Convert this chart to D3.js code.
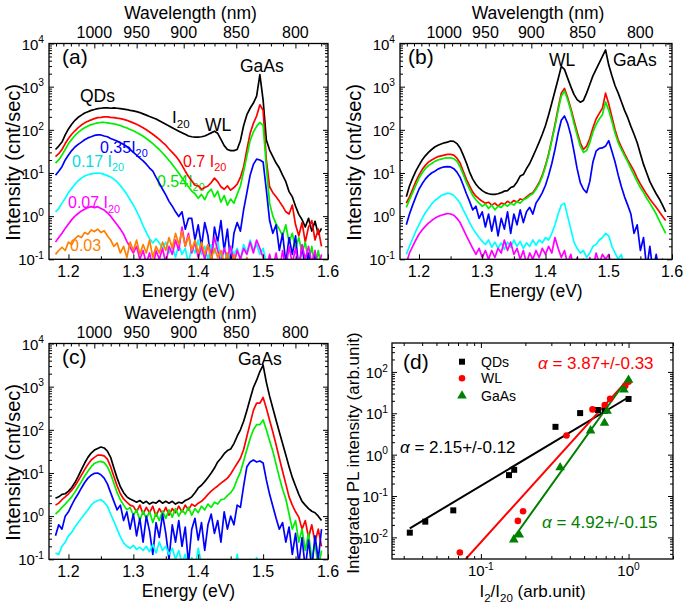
<!DOCTYPE html>
<html><head><meta charset="utf-8">
<script src="https://cdn.jsdelivr.net/npm/d3@7"></script>
<style>
body{margin:0;background:#fff;}
svg text{font-family:"Liberation Sans",Arial,Helvetica,sans-serif;}
</style></head><body>
<svg id="chart" width="685" height="606"></svg>
<script>
// ---------- DATA ----------
// photon-energy grid of the spectra (eV), 1.180 ... 1.590 in 0.005 steps
const energy = d3.range(83).map(i => Math.round((1.18 + i * 0.005) * 1000) / 1000);

// Panel (a) spectra (cnt/sec) for excitation I/I20
const aI20 = [35,42,52,76,105,135,166,195,219,245,
 263,282,295,309,316,324,324,316,324,316,
 309,302,295,282,275,263,251,234,219,204,
 191,178,162,148,135,123,112,102,93,85,
 79,72,69,68,68,69,72,78,85,93,
 83,60,43,35,33,33,35,56,126,224,
 316,417,603,1900,490,58,34,24,17,13,
 8.9,6.3,3.7,2.8,1.7,1.1,0.83,0.56,0.89,0.45,
 0.76,0.38,0.52];
const a070 = [24,28,35,48,63,79,95,112,129,145,
 158,170,182,191,195,200,200,195,191,186,
 182,174,166,155,145,135,123,112,100,89,
 79,69,60,51,44,36,30,25,20,15,
 11,8.3,6.6,5.2,5.0,4.2,4.6,5.0,6.0,7.6,
 6.3,4.8,4.2,5.0,4.0,4.6,5.5,7.9,14,35,
 83,141,209,380,282,20,4.8,3.5,2.8,2.2,
 1.7,1.26,1.12,1.8,0.63,0.35,0.71,0.25,0.56,0.79,
 0.28,0.5,0.2];
const a054 = [17,20,26,35,48,60,74,87,100,112,
 123,132,138,145,148,148,145,141,138,132,
 126,117,110,102,95,87,79,71,63,55,
 48,41,35,29,24,19.5,15.8,12.6,10,7.6,
 6.0,4.8,3.8,3.3,2.6,3.2,2.4,3.5,4.2,2.8,
 3.8,2.1,3.0,1.8,2.5,2.0,3.2,5.0,11,25,
 56,89,120,148,126,14,2.0,1.0,0.66,0.5,
 0.35,0.63,0.25,0.4,0.18,0.32,0.14,0.25,0.08,0.2,
 0.06,0.16,0.06];
const a035 = [8.9,11,14,20,26,33,40,46,52,59,
 65,69,74,76,76,72,69,63,59,55,
 50,46,41,35,30,26,22,19,16,13,
 11,7.9,5.8,4.2,3.1,2.2,1.7,1.26,0.98,1.26,
 0.5,0.89,0.89,0.28,0.63,0.2,0.71,0.35,0.08,0.56,
 0.25,0.79,0.16,0.5,0.08,0.4,0.71,0.45,1.41,3.5,
 8.9,15.8,21,20,18,4.0,0.79,0.4,0.63,0.16,
 0.4,0.08,0.32,0.13,0.35,0.06,0.2,0.06,0.14,0.05,
 0.13,0.05,0.05];
const a017 = [1.26,1.5,2.0,2.6,3.5,4.4,5.5,6.6,7.6,8.5,
 9.1,9.5,9.8,10,9.8,9.3,8.7,8.1,7.2,6.2,
 5.1,4.1,3.2,2.4,1.8,1.3,0.91,0.6,0.42,0.3,
 0.24,0.3,0.24,0.18,0.25,0.14,0.2,0.11,0.22,0.13,
 0.18,0.08,0.2,0.14,0.28,0.13,0.2,0.1,0.22,0.14,
 0.25,0.11,0.18,0.08,0.2,0.13,0.18,0.1,0.22,0.14,
 0.28,0.16,0.22,0.13,0.18,0.08,0.06,0.1,0.05,0.07,
 0.05,0.09,0.05,0.05,0.07,0.05,0.05,0.08,0.05,0.05,
 0.05,0.06,0.05];
const a007 = [0.25,0.32,0.4,0.52,0.66,0.83,1.0,1.15,1.32,1.45,
 1.58,1.66,1.58,1.66,1.51,1.38,1.2,1.0,0.79,0.63,
 0.5,0.38,0.26,0.19,0.14,0.2,0.1,0.16,0.08,0.14,
 0.06,0.16,0.1,0.18,0.08,0.2,0.13,0.28,0.16,0.56,
 0.2,0.4,0.14,0.25,0.11,0.2,0.1,0.22,0.13,0.32,
 0.16,0.08,0.18,0.11,0.2,0.08,0.16,0.1,0.18,0.13,
 0.25,0.14,0.28,0.18,0.11,0.06,0.13,0.06,0.14,0.05,
 0.16,0.06,0.2,0.08,0.18,0.06,0.22,0.1,0.2,0.08,
 0.16,0.06,0.13];
const a003 = [0.13,0.16,0.19,0.16,0.25,0.22,0.3,0.35,0.32,0.42,
 0.38,0.48,0.44,0.5,0.42,0.46,0.35,0.28,0.2,0.24,
 0.14,0.2,0.11,0.25,0.16,0.28,0.13,0.22,0.14,0.28,
 0.11,0.2,0.14,0.25,0.16,0.32,0.18,0.4,0.22,0.45,
 0.2,0.35,0.16,0.28,0.14,0.25,0.13,0.22,0.1,0.18,
 0.11,0.16,0.08,0.14,0.06,0.13,0.06,0.1,0.05,0.11,
 0.05,0.09,0.05,0.07,0.05,0.05,0.08,0.05,0.05,0.05,
 0.05,0.05,0.05,0.05,0.05,0.05,0.05,0.05,0.05,0.05,
 0.05,0.05,0.05];

// Panel (b) spectra
const bI20 = [2.8,5.0,7.6,11,15,20,25,30,35,40,
 44,47,50,52,55,54,48,38,26,17,
 10.5,7.2,5.5,4.5,3.9,3.5,3.3,3.2,3.2,3.3,
 3.5,3.8,3.9,4.6,4.9,6.2,8.5,9.2,12.6,16.6,
 24,35,52,79,126,224,417,794,1510,2950,
 2510,1580,1000,661,501,437,479,708,1120,1780,
 2510,3550,5010,7080,3160,1780,1050,708,447,282,
 191,120,79,50,28,15.8,10,6.3,4.5,3.3,
 2.5,1.8,1.26];
const b070 = [2.0,2.8,4.2,6.3,8.9,12,15,17.8,20,22,
 24,25,26,27,27,26,22,17,11,7.1,
 5.0,3.6,2.9,2.5,2.2,2.0,2.1,1.8,2.0,1.7,
 2.0,1.9,2.2,2.0,2.3,2.1,2.5,2.4,2.8,3.2,
 3.5,4.5,6.0,8.9,15,28,60,132,316,708,
 912,562,316,166,89,50,35,42,63,112,
 178,240,316,708,398,200,100,58,40,28,
 20,15,11,7.6,5.6,4.2,3.2,2.5,2.0,1.6,
 1.26,1.0,0.79];
const b054 = [1.6,2.4,3.5,5.2,7.6,10,12.6,14.8,16.6,18.6,
 20,21,22,22.4,22.4,21.4,18.6,13.8,9.3,6.0,
 4.2,3.0,2.4,2.0,1.7,1.9,1.5,1.8,1.4,1.7,
 1.6,1.9,1.7,2.0,1.8,2.2,2.0,2.4,2.6,3.0,
 3.3,4.2,5.6,8.3,14,26,56,120,282,603,
 794,501,282,141,76,42,30,33,50,89,
 132,178,224,447,282,158,83,50,35,25,
 18,12.6,8.9,6.3,4.6,3.5,2.6,2.0,1.5,1.12,
 0.79,0.56,0.4];
const b035 = [0.63,1.12,1.8,2.8,4.2,5.6,7.2,8.7,10,11,
 12.3,13.2,13.8,14,13.8,12.6,10.5,7.9,5.2,3.3,
 2.2,1.4,1.7,0.89,1.26,0.56,1.12,0.45,1.0,0.35,
 0.89,0.5,1.26,0.4,1.12,0.63,1.4,0.71,1.26,1.6,
 1.12,2.0,2.6,3.5,5.2,8.9,16.6,35,83,166,
 209,141,76,32,12.6,6.0,4.2,3.5,6.3,18,
 32,37,38,42,56,32,18,8.9,4.8,2.8,
 1.8,1.12,0.4,0.63,0.16,0.32,0.06,0.2,0.05,0.13,
 0.05,0.1,0.05];
const b017 = [0.13,0.2,0.3,0.45,0.63,0.89,1.2,1.5,1.9,2.3,
 2.6,3.0,3.2,3.4,3.3,3.0,2.5,2.0,1.4,1.0,
 0.71,0.52,0.4,0.32,0.26,0.22,0.28,0.19,0.25,0.18,
 0.24,0.17,0.25,0.19,0.28,0.2,0.26,0.18,0.24,0.2,
 0.28,0.21,0.28,0.24,0.32,0.28,0.4,0.63,1.12,1.8,
 2.0,1.0,0.5,0.25,0.18,0.14,0.16,0.11,0.14,0.2,
 0.22,0.28,0.32,0.4,0.35,0.2,0.14,0.1,0.13,0.06,
 0.05,0.07,0.05,0.05,0.05,0.05,0.05,0.05,0.05,0.05,
 0.05,0.05,0.05];
const b007 = [0.08,0.14,0.2,0.28,0.38,0.48,0.58,0.69,0.79,0.89,
 0.98,1.05,1.1,1.15,1.12,1.05,0.89,0.71,0.5,0.35,
 0.25,0.18,0.13,0.18,0.11,0.16,0.1,0.16,0.11,0.18,
 0.14,0.28,0.16,0.25,0.13,0.18,0.1,0.16,0.08,0.14,
 0.1,0.16,0.11,0.18,0.13,0.2,0.14,0.32,0.18,0.11,
 0.16,0.08,0.13,0.06,0.11,0.05,0.1,0.05,0.11,0.06,
 0.14,0.08,0.13,0.1,0.13,0.06,0.05,0.05,0.05,0.05,
 0.05,0.05,0.05,0.05,0.05,0.05,0.05,0.05,0.05,0.05,
 0.05,0.05,0.05];

// Panel (c) spectra
const cI20 = [2.6,2.8,3.2,3.3,3.8,4.6,6.0,8.3,12,17,
 23,29,34,37,40,38,32,23,13,7.6,
 4.8,3.5,2.8,2.5,2.3,2.1,2.3,2.0,2.2,1.9,
 2.1,2.0,2.3,2.0,2.2,2.0,2.2,1.9,2.1,2.0,
 2.3,2.5,2.8,3.5,4.5,5.2,6.3,7.9,10,13,
 18,22,28,33,36,48,71,100,158,282,
 525,955,1410,2240,3160,1260,603,316,166,89,
 48,26,14,7.9,5.0,3.2,2.2,1.8,1.5,1.3,
 1.2,1.0,0.79];
const c070 = [1.8,2.0,2.4,2.8,3.3,4.0,5.0,6.6,8.9,12,
 15.8,20,23,26,26,25,21,14,8.3,5.0,
 3.3,2.5,2.1,1.8,1.7,1.26,1.8,1.12,1.6,1.2,
 1.7,1.0,1.5,1.12,1.6,1.05,1.5,1.2,1.7,1.26,
 1.8,1.4,1.9,1.7,2.0,2.2,2.6,3.2,3.8,4.4,
 5.0,5.8,6.6,7.6,9.5,12.6,16.6,22,35,71,
 141,282,417,417,562,316,166,89,45,22,
 11,5.6,2.8,1.8,1.26,0.95,0.5,0.79,0.32,0.63,
 0.25,0.5,0.2];
const c054 = [1.12,1.3,1.6,1.9,2.3,2.8,3.6,4.8,6.3,8.5,
 11,14,16.6,18,18.6,17.4,14,9.5,5.8,3.5,
 2.4,1.8,1.4,1.6,1.05,1.4,0.79,1.3,0.89,1.26,
 0.71,1.2,0.79,1.3,0.89,1.4,0.95,1.5,1.0,1.4,
 1.12,1.6,1.05,1.5,1.2,1.7,1.4,1.9,1.6,2.1,
 1.9,2.4,2.5,3.0,3.5,4.5,7.1,10.5,19,35,
 63,100,132,132,170,100,56,32,15.8,7.9,
 4.2,2.5,1.12,0.5,0.79,0.25,0.5,0.16,0.4,0.1,
 0.25,0.06,0.16];
const c035 = [0.35,0.63,0.5,1.0,1.26,1.8,2.5,3.3,4.5,6.0,
 7.6,8.9,9.8,10,9.1,7.6,5.6,3.5,2.2,1.4,
 1.8,0.79,1.26,0.5,1.12,0.35,0.89,0.25,1.0,0.45,
 0.13,0.71,0.32,1.12,0.4,0.1,0.63,0.25,0.79,0.2,
 0.56,0.08,0.5,0.89,0.28,0.71,0.16,0.63,1.12,0.4,
 0.79,0.25,1.26,0.5,1.0,0.63,1.8,1.6,5.0,14,
 18,20,18,19,17,6.9,3.2,1.7,0.89,0.5,
 0.71,0.25,0.56,0.13,0.4,0.08,0.32,0.06,0.28,0.06,
 0.35,0.1,0.5];
const c017 = [0.14,0.13,0.2,0.25,0.35,0.42,0.56,0.71,0.89,1.12,
 1.4,1.8,2.1,2.3,2.4,2.1,1.7,1.12,0.76,0.5,
 0.33,0.24,0.2,0.18,0.21,0.17,0.19,0.16,0.2,0.15,
 0.22,0.14,0.25,0.16,0.2,0.13,0.18,0.1,0.16,0.08,
 0.13,0.06,0.11,0.06,0.18,0.08,0.05,0.1,0.05,0.08,
 0.05,0.06,0.05,0.09,0.05,0.05,0.13,0.05,0.06,0.05,
 0.1,0.05,0.11,0.06,0.09,0.05,0.05,0.05,0.05,0.05,
 0.05,0.05,0.05,0.05,0.05,0.05,0.05,0.05,0.05,0.05,
 0.05,0.05,0.05];

// Panel (d) integrated PL vs excitation ratio I2/I20
const qdRatio = [0.033,0.042,0.065,0.155,0.168,0.32,0.47,0.62,0.69,1.0];
const qdInt   = [0.013,0.024,0.045,0.32,0.43,4.7,10.1,12.0,11.5,22.2];
const wlRatio = [0.072,0.178,0.193,0.38,0.57,0.69,0.75,0.95,1.0];
const wlInt   = [0.0043,0.025,0.043,2.9,12.4,15.8,22.5,46,58];
const gaRatio = [0.167,0.182,0.344,0.553,0.687,0.716,0.931,1.0];
const gaInt   = [0.0088,0.0116,0.49,3.8,5.8,11.3,37,64];
const qdFitX = [0.033,1.0], qdFitY = [0.0165,24.4];
const wlFitX = [0.079,1.0], wlFitY = [0.003,67.6];
const gaFitX = [0.164,1.0], gaFitY = [0.009,74.4];
const legendLabels = ["QDs","WL","GaAs"];
const alphaTexts = [" = 2.15+/-0.12"," = 3.87+/-0.33"," = 4.92+/-0.15"];

// axis tick values / labels
const eMajor = [1.2,1.3,1.4,1.5,1.6];
const eMinor = [1.25,1.35,1.45,1.55];
const eTickLabels = ["1.2","1.3","1.4","1.5","1.6"];
const wlMajor = [1000,950,900,850,800];
const wlTickLabels = ["1000","950","900","850","800"];
const wlMinor = [1050,1040,1030,1020,1010,990,980,970,960,940,930,920,910,890,880,870,860,840,830,820,810,790,780];
const specExp = [-1,0,1,2,3,4];
const dXExp = [-1,0];
const dYExp = [-2,-1,0,1,2];

// ---------- DRAWING ----------
const svg = d3.select('#chart');
const eDomain = [1.17, 1.6];
const toE = l => 1239.84 / l;

function addTicks(g, axis, transform, values, size) {
  g.append('g').attr('transform', transform)
    .call(axis.tickValues(values).tickSize(size).tickSizeOuter(0).tickFormat(() => ''))
    .call(s => { s.select('.domain').remove(); s.selectAll('text').remove(); s.selectAll('line').attr('stroke-width', 1); });
}
function richText(g, x, y, parts, size, color, anchor) {
  const t = g.append('text').attr('x', x).attr('y', y).attr('font-size', size)
    .attr('fill', color || '#000').attr('text-anchor', anchor || 'start');
  let shift = 0;
  parts.forEach(p => {
    const ts = t.append('tspan').text(p.t);
    const target = p.sub ? size * 0.3 : (p.sup ? -size * 0.42 : 0);
    ts.attr('dy', target - shift); shift = target;
    if (p.sub || p.sup) ts.attr('font-size', size * 0.68);
    if (p.it) ts.attr('font-style', 'italic');
  });
  return t;
}
function powParts(e) { return [{t:'10'},{t:String(e), sup:true}]; }
const sub20 = {t:'20', sub:true};

const spectra = [
  {key:'a', x0:49, x1:328, y0:43.5, y1:259.3, ylabX:19.5,
   series:[[aI20,'#000000'],[a070,'#ff0000'],[a054,'#00ee00'],[a035,'#0000ff'],[a017,'#00ffff'],[a007,'#ff00ff'],[a003,'#ff8000']],
   notes:[
     {x:62,y:64,size:21,parts:[{t:'(a)'}]},
     {x:80,y:102,size:17.5,parts:[{t:'QDs'}]},
     {x:172,y:123,size:17,parts:[{t:'I'},sub20]},
     {x:205,y:131,size:17.5,parts:[{t:'WL'}]},
     {x:240,y:72,size:17.5,parts:[{t:'GaAs'}]},
     {x:183,y:166.5,size:16,color:'#ff0000',parts:[{t:'0.7 I'},sub20]},
     {x:100,y:152.5,size:16,color:'#0000ff',parts:[{t:'0.35I'},sub20]},
     {x:72,y:166.5,size:16,color:'#00dddd',parts:[{t:'0.17 I'},sub20]},
     {x:157,y:186.5,size:16,color:'#00dd00',parts:[{t:'0.54I'},sub20]},
     {x:68,y:208,size:16,color:'#ff00ff',parts:[{t:'0.07 I'},sub20]},
     {x:70,y:250.5,size:16,color:'#ff8000',parts:[{t:'0.03'}]}
   ]},
  {key:'b', x0:400, x1:672, y0:43.5, y1:259.3, ylabX:360.5,
   series:[[bI20,'#000000'],[b070,'#ff0000'],[b054,'#00ee00'],[b035,'#0000ff'],[b017,'#00ffff'],[b007,'#ff00ff']],
   notes:[
     {x:408,y:64,size:21,parts:[{t:'(b)'}]},
     {x:549,y:66,size:17.5,parts:[{t:'WL'}]},
     {x:613,y:66,size:17.5,parts:[{t:'GaAs'}]}
   ]},
  {key:'c', x0:49, x1:328, y0:343.5, y1:559.3, ylabX:19.5,
   series:[[cI20,'#000000'],[c070,'#ff0000'],[c054,'#00ee00'],[c035,'#0000ff'],[c017,'#00ffff']],
   notes:[
     {x:62,y:364,size:21,parts:[{t:'(c)'}]},
     {x:238,y:365,size:17.5,parts:[{t:'GaAs'}]}
   ]}
];

spectra.forEach(p => {
  const g = svg.append('g');
  const x = d3.scaleLinear().domain(eDomain).range([p.x0, p.x1]);
  const y = d3.scaleLog().domain([0.1, 1e4]).range([p.y1, p.y0]);
  svg.append('clipPath').attr('id', 'clip-' + p.key).append('rect')
    .attr('x', p.x0).attr('y', p.y0).attr('width', p.x1 - p.x0).attr('height', p.y1 - p.y0);
  // annotations (behind the curves)
  p.notes.forEach(n => richText(g, n.x, n.y, n.parts, n.size, n.color));
  // spectra
  const line = d3.line().x((d, i) => x(energy[i])).y(d => y(d));
  const cg = g.append('g').attr('clip-path', `url(#clip-${p.key})`);
  p.series.forEach(([vals, color]) => {
    cg.append('path').datum(vals).attr('d', line).attr('fill', 'none')
      .attr('stroke', color).attr('stroke-width', 1.7).attr('stroke-linejoin', 'round');
  });
  // ticks
  const yMajor = specExp.map(e => Math.pow(10, e));
  const yMinor = [];
  specExp.slice(0, -1).forEach(e => { for (let m = 2; m < 10; m++) yMinor.push(m * Math.pow(10, e)); });
  addTicks(g, d3.axisBottom(x), `translate(0,${p.y1})`, eMajor, -5);
  addTicks(g, d3.axisBottom(x), `translate(0,${p.y1})`, eMinor, -3);
  addTicks(g, d3.axisLeft(y), `translate(${p.x0},0)`, yMajor, -5);
  addTicks(g, d3.axisLeft(y), `translate(${p.x0},0)`, yMinor, -3);
  addTicks(g, d3.axisRight(y), `translate(${p.x1},0)`, yMajor, -5);
  addTicks(g, d3.axisRight(y), `translate(${p.x1},0)`, yMinor, -3);
  addTicks(g, d3.axisTop(x), `translate(0,${p.y0})`, wlMajor.map(toE), -5);
  addTicks(g, d3.axisTop(x), `translate(0,${p.y0})`, wlMinor.map(toE).filter(e => e >= eDomain[0] && e <= eDomain[1]), -3);
  g.append('rect').attr('x', p.x0).attr('y', p.y0).attr('width', p.x1 - p.x0).attr('height', p.y1 - p.y0)
    .attr('fill', 'none').attr('stroke', '#000').attr('stroke-width', 1.3);
  // tick labels
  eMajor.forEach((v, i) => g.append('text').attr('x', x(v)).attr('y', p.y1 + 18).attr('text-anchor', 'middle')
    .attr('font-size', 16).text(eTickLabels[i]));
  wlMajor.forEach((l, i) => g.append('text').attr('x', x(toE(l))).attr('y', p.y0 - 5.5).attr('text-anchor', 'middle')
    .attr('font-size', 16).text(wlTickLabels[i]));
  specExp.forEach(e => richText(g, p.x0 - 5, y(Math.pow(10, e)) + 6, powParts(e), 15, '#000', 'end'));
  // axis titles
  g.append('text').attr('x', (p.x0 + p.x1) / 2).attr('y', p.y1 + 37.5).attr('text-anchor', 'middle')
    .attr('font-size', 17.5).text('Energy (eV)');
  g.append('text').attr('x', (p.x0 + p.x1) / 2 + 2).attr('y', p.y0 - 25).attr('text-anchor', 'middle')
    .attr('font-size', 17.5).text('Wavelength (nm)');
  g.append('text').attr('transform', `translate(${p.ylabX},${(p.y0 + p.y1) / 2 + 11}) rotate(-90)`)
    .attr('text-anchor', 'middle').attr('font-size', 20).text('Intensity (cnt/sec)');
});

// ---- panel (d) ----
(function () {
  const x0 = 392, x1 = 673, y0 = 343, y1 = 559;
  const g = svg.append('g');
  const x = d3.scaleLog().domain([0.025, 2]).range([x0, x1]);
  const y = d3.scaleLog().domain([0.003, 500]).range([y1, y0]);
  svg.append('clipPath').attr('id', 'clip-d').append('rect').attr('x', x0).attr('y', y0).attr('width', x1 - x0).attr('height', y1 - y0);
  const cg = g.append('g').attr('clip-path', 'url(#clip-d)');
  const fit = d3.line().x(d => x(d[0])).y(d => y(d[1]));
  [[qdFitX, qdFitY, '#000000'], [wlFitX, wlFitY, '#ff0000'], [gaFitX, gaFitY, '#008000']].forEach(([fx, fy, c]) => {
    cg.append('path').datum(fx.map((v, i) => [v, fy[i]])).attr('d', fit).attr('fill', 'none').attr('stroke', c).attr('stroke-width', 2);
  });
  const sq = d3.symbol().type(d3.symbolSquare).size(36);
  const ci = d3.symbol().type(d3.symbolCircle).size(34);
  const tr = d3.symbol().type(d3.symbolTriangle).size(40);
  qdRatio.forEach((v, i) => cg.append('path').attr('d', sq).attr('transform', `translate(${x(v)},${y(qdInt[i])})`).attr('fill', '#000'));
  wlRatio.forEach((v, i) => cg.append('path').attr('d', ci).attr('transform', `translate(${x(v)},${y(wlInt[i])})`).attr('fill', '#ff0000'));
  gaRatio.forEach((v, i) => cg.append('path').attr('d', tr).attr('transform', `translate(${x(v)},${y(gaInt[i])})`).attr('fill', '#008000'));
  // ticks
  const xMajor = dXExp.map(e => Math.pow(10, e));
  const xMinor = [0.03,0.04,0.05,0.06,0.07,0.08,0.09,0.2,0.3,0.4,0.5,0.6,0.7,0.8,0.9,2];
  const yMajor = dYExp.map(e => Math.pow(10, e));
  const yMinor = [0.004,0.005,0.006,0.007,0.008,0.009];
  [-2,-1,0,1].forEach(e => { for (let m = 2; m < 10; m++) yMinor.push(m * Math.pow(10, e)); });
  yMinor.push(200, 300, 400);
  addTicks(g, d3.axisBottom(x), `translate(0,${y1})`, xMajor, -5);
  addTicks(g, d3.axisBottom(x), `translate(0,${y1})`, xMinor, -3);
  addTicks(g, d3.axisTop(x), `translate(0,${y0})`, xMajor, -5);
  addTicks(g, d3.axisTop(x), `translate(0,${y0})`, xMinor, -3);
  addTicks(g, d3.axisLeft(y), `translate(${x0},0)`, yMajor, -5);
  addTicks(g, d3.axisLeft(y), `translate(${x0},0)`, yMinor, -3);
  addTicks(g, d3.axisRight(y), `translate(${x1},0)`, yMajor, -5);
  addTicks(g, d3.axisRight(y), `translate(${x1},0)`, yMinor, -3);
  g.append('rect').attr('x', x0).attr('y', y0).attr('width', x1 - x0).attr('height', y1 - y0)
    .attr('fill', 'none').attr('stroke', '#000').attr('stroke-width', 1.3);
  dXExp.forEach(e => richText(g, x(Math.pow(10, e)), 576, powParts(e), 15, '#000', 'middle'));
  dYExp.forEach(e => richText(g, x0 - 4, y(Math.pow(10, e)) + 6, powParts(e), 15, '#000', 'end'));
  richText(g, (x0 + x1) / 2, 597, [{t:'I'},{t:'2',sub:true},{t:'/I'},{t:'20',sub:true},{t:' (arb.unit)'}], 17, '#000', 'middle');
  g.append('text').attr('transform', `translate(359,${(y0 + y1) / 2 + 2}) rotate(-90)`).attr('text-anchor', 'middle')
    .attr('font-size', 17).text('Integrated PL intensity (arb.unit)');
  richText(g, 403, 369, [{t:'(d)'}], 21);
  // legend
  const ly = [361.7, 378.3, 395.7];
  const syms = [[sq, '#000'], [ci, '#ff0000'], [tr, '#008000']];
  legendLabels.forEach((lab, i) => {
    g.append('path').attr('d', syms[i][0]).attr('transform', `translate(462,${ly[i]})`).attr('fill', syms[i][1]);
    g.append('text').attr('x', 481).attr('y', ly[i] + 5).attr('font-size', 14).text(lab);
  });
  richText(g, 400, 452.5, [{t:'α', it:true},{t:alphaTexts[0]}], 17, '#000');
  richText(g, 538, 369, [{t:'α', it:true},{t:alphaTexts[1]}], 17, '#ff0000');
  richText(g, 542, 527.5, [{t:'α', it:true},{t:alphaTexts[2]}], 17, '#008000');
})();
</script>
</body></html>
